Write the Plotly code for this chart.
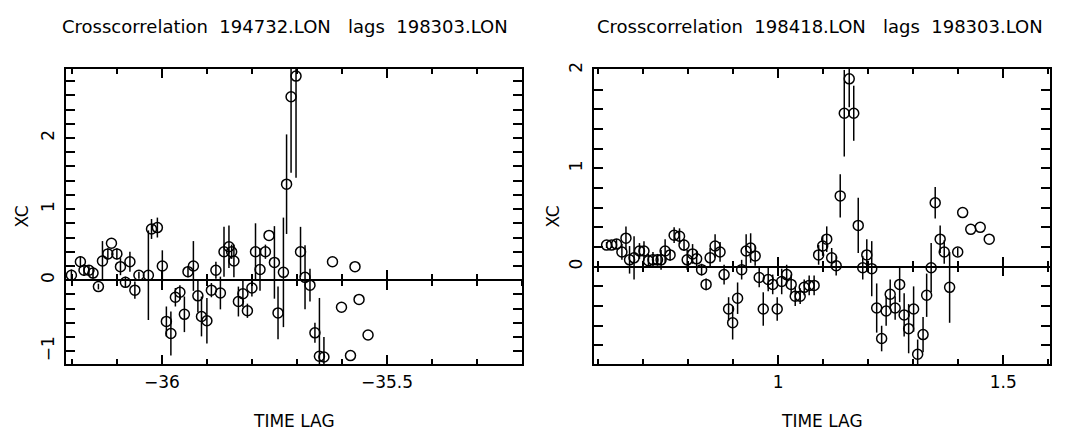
import plotly.graph_objects as go

# ---------------- data ----------------
left_x = [-36.201, -36.181, -36.173, -36.162, -36.153, -36.141, -36.132, -36.120, -36.112, -36.100,
          -36.092, -36.081, -36.071, -36.060, -36.051, -36.030, -36.023, -36.010, -35.999, -35.990,
          -35.980, -35.970, -35.960, -35.950, -35.942, -35.930, -35.920, -35.912, -35.900, -35.890,
          -35.880, -35.870, -35.862, -35.851, -35.845, -35.840, -35.830, -35.820, -35.810, -35.800,
          -35.792, -35.782, -35.770, -35.762, -35.750, -35.742, -35.730, -35.723, -35.713, -35.702,
          -35.692, -35.682, -35.671, -35.660, -35.650, -35.640,
          -35.621, -35.601, -35.581, -35.571, -35.562, -35.542]
left_y = [0.07, 0.26, 0.14, 0.14, 0.10, -0.09, 0.27, 0.37, 0.52, 0.37,
          0.19, -0.03, 0.26, -0.14, 0.07, 0.07, 0.72, 0.74, 0.20, -0.58,
          -0.75, -0.24, -0.17, -0.48, 0.12, 0.20, -0.22, -0.51, -0.57, -0.14,
          0.14, -0.18, 0.40, 0.47, 0.40, 0.27, -0.30, -0.19, -0.43, -0.11,
          0.40, 0.15, 0.40, 0.63, 0.25, -0.46, 0.11, 1.35, 2.58, 2.87,
          0.40, 0.04, -0.07, -0.74, -1.07, -1.08,
          0.26, -0.38, -1.06, 0.19, -0.27, -0.77]
left_err = [0.08, 0.08, 0.08, 0.07, 0.08, 0.04, 0.28, 0.08, 0.0, 0.08,
            0.12, 0.08, 0.14, 0.12, 0.05, 0.63, 0.14, 0.14, 0.22, 0.21,
            0.31, 0.13, 0.10, 0.25, 0.08, 0.35, 0.23, 0.28, 0.32, 0.10,
            0.12, 0.23, 0.35, 0.30, 0.10, 0.23, 0.21, 0.19, 0.10, 0.12,
            0.40, 0.30, 0.10, 0.0, 0.51, 0.37, 0.77, 0.70, 1.07, 1.43,
            0.35, 0.45, 0.23, 0.14, 0.82, 0.28,
            0.0, 0.0, 0.0, 0.0, 0.0, 0.0]

right_x = [0.619, 0.630, 0.641, 0.653, 0.662, 0.670, 0.680, 0.692, 0.702, 0.712,
           0.722, 0.732, 0.740, 0.749, 0.760, 0.769, 0.781, 0.791, 0.798, 0.810,
           0.819, 0.830, 0.840, 0.849, 0.860, 0.871, 0.880, 0.890, 0.899, 0.910,
           0.919, 0.929, 0.939, 0.949, 0.958, 0.967, 0.978, 0.988, 0.998, 1.008,
           1.019, 1.029, 1.038, 1.049, 1.058, 1.069, 1.080, 1.090, 1.099, 1.108,
           1.119, 1.129, 1.138, 1.147, 1.158, 1.168, 1.178, 1.188, 1.197, 1.208,
           1.219, 1.230, 1.240, 1.249, 1.260, 1.270, 1.280, 1.290, 1.301, 1.310,
           1.322, 1.330, 1.340, 1.349, 1.360, 1.369, 1.381, 1.399,
           1.410, 1.428, 1.449, 1.469]
right_y = [0.22, 0.22, 0.23, 0.15, 0.29, 0.07, 0.09, 0.16, 0.16, 0.06,
           0.07, 0.07, 0.07, 0.16, 0.12, 0.32, 0.31, 0.22, 0.07, 0.13,
           0.08, -0.03, -0.18, 0.09, 0.21, 0.15, -0.08, -0.43, -0.57, -0.32,
           -0.03, 0.16, 0.19, 0.11, -0.11, -0.43, -0.13, -0.18, -0.43, -0.15,
           -0.08, -0.18, -0.30, -0.30, -0.21, -0.19, -0.19, 0.12, 0.21, 0.28,
           0.09, 0.01, 0.72, 1.56, 1.91, 1.56, 0.42, -0.01, 0.12, -0.02,
           -0.42, -0.73, -0.45, -0.28, -0.42, -0.18, -0.49, -0.63, -0.43, -0.89,
           -0.69, -0.29, -0.01, 0.65, 0.28, 0.15, -0.21, 0.15,
           0.55, 0.38, 0.40, 0.28]
right_err = [0.03, 0.03, 0.05, 0.08, 0.12, 0.14, 0.22, 0.08, 0.10, 0.07,
             0.08, 0.06, 0.10, 0.12, 0.06, 0.08, 0.08, 0.06, 0.10, 0.10,
             0.08, 0.06, 0.06, 0.10, 0.12, 0.10, 0.10, 0.12, 0.17, 0.16,
             0.10, 0.17, 0.15, 0.10, 0.10, 0.17, 0.12, 0.10, 0.12, 0.13,
             0.10, 0.10, 0.10, 0.08, 0.08, 0.10, 0.10, 0.10, 0.10, 0.13,
             0.10, 0.10, 0.22, 0.44, 0.29, 0.28, 0.28, 0.12, 0.16, 0.28,
             0.25, 0.13, 0.15, 0.15, 0.12, 0.18, 0.22, 0.25, 0.23, 0.15,
             0.18, 0.22, 0.25, 0.16, 0.14, 0.12, 0.36, 0.04,
             0.0, 0.0, 0.0, 0.0]

left_title = "Crosscorrelation\u00a0\u00a0194732.LON\u00a0\u00a0\u00a0lags\u00a0\u00a0198303.LON"
right_title = "Crosscorrelation\u00a0\u00a0198418.LON\u00a0\u00a0\u00a0lags\u00a0\u00a0198303.LON"
x_title = "TIME LAG"
y_title = "XC"
left_xticks = [-36, -35.5]
left_xticktext = ["\u221236", "\u221235.5"]
left_yticks = [-1, 0, 1, 2]
left_yticktext = ["\u22121", "0", "1", "2"]
right_xticks = [1, 1.5]
right_xticktext = ["1", "1.5"]
right_yticks = [0, 1, 2]
right_yticktext = ["0", "1", "2"]

# ---------------- layout geometry ----------------
W, H = 1065, 431
left_xrange = [-36.213, -35.2]
left_yrange = [-1.18, 2.97]
right_xrange = [0.591, 1.604]
right_yrange = [-0.99, 2.01]

dom_y = [1 - 363 / H, 1 - 63 / H]
dom_xl = [66 / W, 522 / W]
dom_xr = [594 / W, 1050 / W]


def zero_pos(rng, dom):
    f = (0 - rng[0]) / (rng[1] - rng[0])
    return dom[0] + f * (dom[1] - dom[0])


FONT = "DejaVu Sans"
tickfont = dict(family=FONT, size=17, color="black")


def axis(rng, dom, tickvals, ticktext, minor_dtick, anchor, tickangle=0, standoff=6):
    return dict(range=rng, domain=dom, anchor=anchor, showgrid=False, zeroline=False,
                showline=True, linecolor="black", linewidth=2, mirror="allticks",
                ticks="inside", ticklen=9, tickwidth=1.5, tickcolor="black",
                tickmode="array", tickvals=tickvals, ticktext=ticktext,
                minor=dict(ticks="inside", ticklen=5, tickwidth=1.5, tickcolor="black",
                           dtick=minor_dtick, tick0=0, showgrid=False),
                tickfont=tickfont, tickangle=tickangle, ticklabelstandoff=standoff)


fig = go.Figure()


def add_panel(xs, ys, errs, xa, ya):
    fig.add_trace(go.Scatter(
        x=xs, y=ys, mode="markers", xaxis=xa, yaxis=ya, showlegend=False,
        marker=dict(symbol="circle-open", size=10, color="black", line=dict(width=1.5, color="black")),
        error_y=dict(type="data", array=errs, visible=True, width=0, thickness=1.5, color="black"),
        cliponaxis=True,
    ))


add_panel(left_x, left_y, left_err, "x", "y")
add_panel(right_x, right_y, right_err, "x2", "y2")

# dummy traces for zero-line axes
for xa, ya in [("x3", "y"), ("x4", "y"), ("x5", "y2"), ("x6", "y2")]:
    fig.add_trace(go.Scatter(x=[None], y=[None], xaxis=xa, yaxis=ya, showlegend=False,
                             hoverinfo="skip", mode="markers"))


def zero_axis(rng, overlay, pos, dom, tickvals, direction):
    return dict(range=rng, domain=dom, overlaying=overlay, anchor="free", position=pos,
                showgrid=False, zeroline=False, showline=True, linecolor="black", linewidth=1.5,
                ticks=direction, ticklen=9, tickwidth=1.5, tickcolor="black",
                tickmode="array", tickvals=tickvals, showticklabels=False,
                minor=dict(ticks=direction, ticklen=5, tickwidth=1.5, tickcolor="black",
                           dtick=0.1, tick0=0, showgrid=False))


pl = zero_pos(left_yrange, dom_y)
pr = zero_pos(right_yrange, dom_y)

fig.update_layout(
    width=W, height=H, margin=dict(l=0, r=0, t=0, b=0),
    paper_bgcolor="white", plot_bgcolor="white",
    xaxis=axis(left_xrange, dom_xl, left_xticks, left_xticktext, 0.1, "y", 0, 1),
    yaxis=axis(left_yrange, dom_y, left_yticks, left_yticktext, 0.2, "x", -90, 3),
    xaxis2=axis(right_xrange, dom_xr, right_xticks, right_xticktext, 0.1, "y2", 0, 1),
    yaxis2=axis(right_yrange, dom_y, right_yticks, right_yticktext, 0.2, "x2", -90, 3),
    xaxis3=zero_axis(left_xrange, "x", pl, dom_xl, left_xticks, "inside"),
    xaxis4=zero_axis(left_xrange, "x", pl, dom_xl, left_xticks, "outside"),
    xaxis5=zero_axis(right_xrange, "x2", pr, dom_xr, right_xticks, "inside"),
    xaxis6=zero_axis(right_xrange, "x2", pr, dom_xr, right_xticks, "outside"),
)

ann_font = dict(family=FONT, size=18, color="black")
lab_font = dict(family=FONT, size=17, color="black")
fig.add_annotation(x=285 / W, y=1 - 20 / H, xref="paper", yref="paper", text=left_title,
                   showarrow=False, font=ann_font, xanchor="center", yanchor="middle")
fig.add_annotation(x=820 / W, y=1 - 20 / H, xref="paper", yref="paper", text=right_title,
                   showarrow=False, font=ann_font, xanchor="center", yanchor="middle")
for cx in [(dom_xl[0] + dom_xl[1]) / 2, (dom_xr[0] + dom_xr[1]) / 2]:
    fig.add_annotation(x=cx, y=1 - 421 / H, xref="paper", yref="paper", text=x_title,
                       showarrow=False, font=lab_font, xanchor="center", yanchor="middle")
for px in [22, 553]:
    fig.add_annotation(x=px / W, y=1 - 213 / H, xref="paper", yref="paper", text=y_title,
                       showarrow=False, font=lab_font, textangle=-90,
                       xanchor="center", yanchor="middle")

fig.write_html("out.html", config={"displayModeBar": False},
               post_script="document.body.style.margin='0';document.body.style.overflow='hidden';")
